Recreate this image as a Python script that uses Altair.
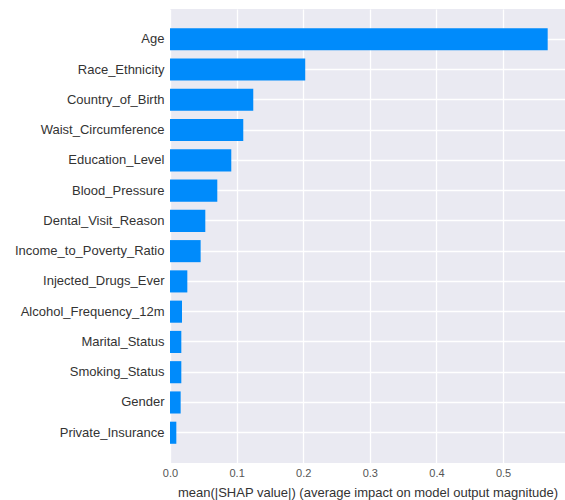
import altair as alt
import pandas as pd

# Mean absolute SHAP value per feature, largest first
features = [
    "Age", "Race_Ethnicity", "Country_of_Birth", "Waist_Circumference",
    "Education_Level", "Blood_Pressure", "Dental_Visit_Reason",
    "Income_to_Poverty_Ratio", "Injected_Drugs_Ever", "Alcohol_Frequency_12m",
    "Marital_Status", "Smoking_Status", "Gender", "Private_Insurance",
]
mean_abs_shap = [
    0.567, 0.203, 0.125, 0.110, 0.092, 0.071, 0.053,
    0.046, 0.026, 0.018, 0.017, 0.017, 0.016, 0.0095,
]
x_ticks = [0.0, 0.1, 0.2, 0.3, 0.4, 0.5]

df = pd.DataFrame({"feature": features, "value": mean_abs_shap})

bars = alt.Chart(df).mark_bar(color="#008bfb").encode(
    x=alt.X(
        "value:Q",
        scale=alt.Scale(domain=[0, 0.593], nice=False, zero=True),
        axis=alt.Axis(
            values=x_ticks,
            format=".1f",
            title="mean(|SHAP value|) (average impact on model output magnitude)",
            titleFontSize=13,
            titleFontWeight="normal",
            titleColor="#333333",
            titlePadding=8,
            labelFontSize=11,
            labelColor="#555555",
            labelPadding=4,
            labelFlush=False,
            ticks=False,
            domain=False,
            grid=True,
            gridColor="white",
            gridWidth=1.3,
        ),
    ),
    y=alt.Y(
        "feature:N",
        sort=features,
        scale=alt.Scale(paddingInner=0.27, paddingOuter=0.635),
        axis=alt.Axis(
            title=None,
            labelFontSize=13,
            labelColor="#333333",
            labelPadding=6,
            ticks=False,
            domain=False,
            grid=True,
            gridColor="white",
            gridWidth=1.3,
            bandPosition=0.5,
        ),
    ),
)

chart = (
    bars.properties(
        width=395,
        height=454,
        autosize=alt.AutoSizeParams(type="none"),
        padding={"left": 170, "top": 9, "right": 0, "bottom": 37},
        background="white",
    )
    .configure(font="Liberation Sans")
    .configure_view(fill="#eaeaf2", stroke=None)
)

chart.save("out.html", embed_options={"renderer": "svg", "actions": False})
